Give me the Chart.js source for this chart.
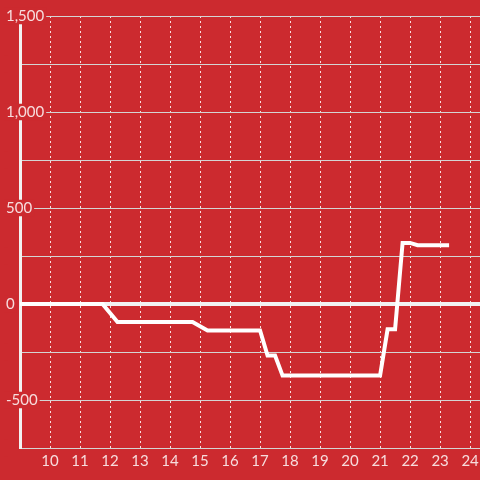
<!DOCTYPE html>
<html>
<head>
<meta charset="utf-8">
<script src="https://cdn.jsdelivr.net/npm/chart.js@4"></script>
<style>
  html, body { margin: 0; padding: 0; background: #cc2a2f; }
  #wrap { width: 480px; height: 480px; }
</style>
</head>
<body>
<div id="wrap"><canvas id="chart"></canvas></div>
<script>
// hour of day and running value
const hours = [9, 11.75, 12.25, 14.75, 15.25, 17, 17.25, 17.5, 17.75, 21, 21.25, 21.5, 21.75, 22, 22.25, 23.3];
const values = [0, 0, -94, -94, -138, -138, -268, -268, -373, -373, -132, -132, 318, 318, 306, 306];

const xRange = { min: 9, max: 24.33 };
const yRange = { min: -750, max: 1500, step: 250 };

const bg = '#cc2a2f';
const labelColor = 'rgba(255, 255, 255, 0.84)';

const points = hours.map((h, i) => ({ x: h, y: values[i] }));

new Chart(document.getElementById('chart'), {
    type: 'scatter',
    data: {
        datasets: [{
            data: points,
            showLine: true,
            borderColor: '#ffffff',
            borderWidth: 4,
            pointRadius: 0,
            tension: 0,
            fill: false
        }]
    },
    options: {
        responsive: true,
        maintainAspectRatio: false,
        animation: false,
        layout: { padding: { left: 6, top: 16, right: 0, bottom: 0 } },
        plugins: {
            legend: { display: false },
            tooltip: { enabled: false }
        },
        scales: {
            x: {
                type: 'linear',
                min: xRange.min,
                max: xRange.max,
                afterFit: (scale) => {
                    scale.height = 32;
                    scale.paddingLeft = 0;
                    scale.paddingRight = 0;
                },
                // dash here styles the vertical grid lines
                border: { display: false, dash: [2, 3] },
                grid: {
                    color: 'rgba(255, 255, 255, 0.85)',
                    lineWidth: 1,
                    drawTicks: false
                },
                ticks: {
                    stepSize: 1,
                    includeBounds: false,
                    autoSkip: false,
                    maxRotation: 0,
                    padding: 4,
                    color: labelColor,
                    font: { family: 'Lato', size: 15 },
                    callback: (v) => (v === xRange.min ? '' : v)
                }
            },
            y: {
                min: yRange.min,
                max: yRange.max,
                afterFit: (scale) => { scale.width = 14; },
                border: { display: true, color: '#f2f2f2', width: 3 },
                grid: {
                    drawTicks: false,
                    color: (ctx) => (ctx.tick && ctx.tick.value === 0 ? '#f2f2f2' : '#d4d4d4'),
                    lineWidth: (ctx) => (ctx.tick && ctx.tick.value === 0 ? 4 : 1)
                },
                ticks: {
                    stepSize: yRange.step,
                    // mirrored so the labels are not clipped, pulled back over the axis
                    mirror: true,
                    crossAlign: 'near',
                    padding: -14,
                    color: labelColor,
                    font: { family: 'Lato', size: 15, lineHeight: 1.1 },
                    showLabelBackdrop: true,
                    backdropColor: bg,
                    backdropPadding: { left: 2, right: 2, top: 0, bottom: 0 },
                    callback: (v) => (v % 500 === 0 ? v.toLocaleString('en-US') : '')
                }
            }
        }
    }
});
</script>
</body>
</html>
